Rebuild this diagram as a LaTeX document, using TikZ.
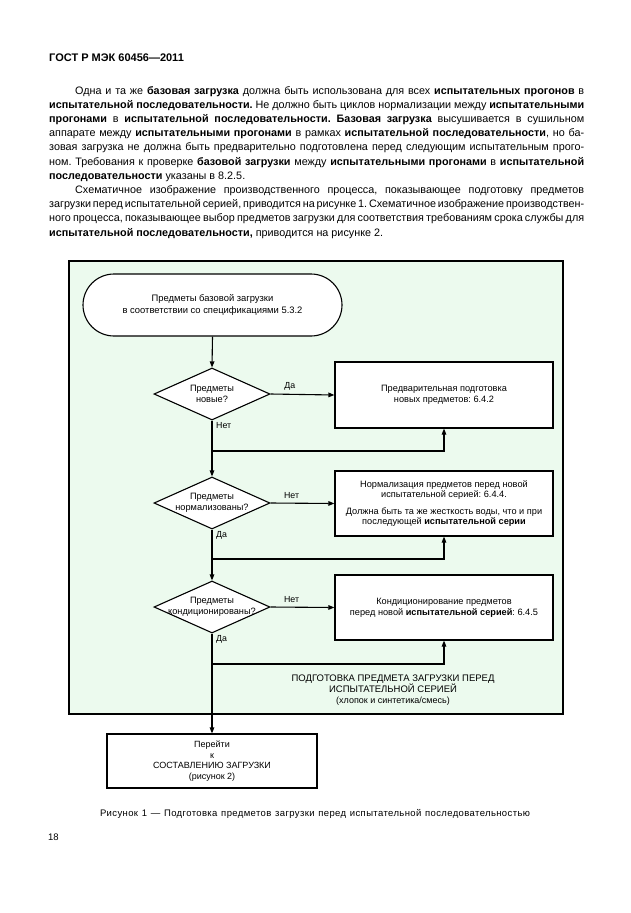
\documentclass[tikz,border=0pt]{standalone}
\usepackage{fontspec}
\setmainfont{Liberation Sans}
\usetikzlibrary{shapes.geometric,arrows.meta}
\definecolor{mint}{RGB}{236,250,238}
\frenchspacing
\newcommand\jline[4]{\node[body] (#1) at (#2) {\spaceskip=0.278em plus 0.4em minus 0.16em\relax\hbox to #3pt{#4}};}
\begin{document}
\begin{tikzpicture}[x=1pt,y=-1pt,
  body/.style={font=\fontsize{10.8}{14}\selectfont, inner sep=0pt, anchor=base west},
  fc/.style={font=\fontsize{9.2}{11}\selectfont, align=center, inner sep=0pt},
  fbox/.style={draw, fill=white, line width=1.1pt, minimum width=218pt, minimum height=65pt, inner sep=0pt, fc},
  dia/.style={diamond, draw, fill=white, line width=1.1pt, minimum width=116pt, minimum height=52pt, inner sep=0pt},
  conn/.style={line width=1.1pt, -{Triangle[length=6pt,width=4.5pt]}},
  yn/.style={font=\fontsize{8.8}{10}\selectfont, inner sep=0pt}
]
\useasboundingbox (0,0) rectangle (630,913);
\fill[white] (0,0) rectangle (630,913);

% header
\node[body, font=\fontsize{11}{13}\selectfont\bfseries] (hdr) at (49,61) {ГОСТ Р МЭК 60456—2011};

% paragraph text
\jline{l1}{75,94}{509}{Одна и та же \textbf{базовая загрузка} должна быть использована для всех \textbf{испытательных прогонов} в}
\jline{l2}{49,108.2}{535}{\textbf{испытательной последовательности.} Не должно быть циклов нормализации между \textbf{испытательными}}
\jline{l3}{49,122.4}{535}{\textbf{прогонами} в \textbf{испытательной последовательности. Базовая загрузка} высушивается в сушильном}
\jline{l4}{49,136.6}{535}{аппарате между \textbf{испытательными прогонами} в рамках \textbf{испытательной последовательности}, но ба-}
\jline{l5}{49,150.8}{535}{зовая загрузка не должна быть предварительно подготовлена перед следующим испытательным прого-}
\jline{l6}{49,165}{535}{ном. Требования к проверке \textbf{базовой загрузки} между \textbf{испытательными прогонами} в \textbf{испытательной}}
\node[body] (l7) at (49,179.2) {\textbf{последовательности} указаны в 8.2.5.};
\jline{l8}{75,193.4}{509}{Схематичное изображение производственного процесса, показывающее подготовку предметов}
\jline{l9}{49,207.6}{535}{загрузки перед испытательной серией, приводится на рисунке 1. Схематичное изображение производствен-}
\jline{l10}{49,221.8}{535}{ного процесса, показывающее выбор предметов загрузки для соответствия требованиям срока службы для}
\node[body] (l11) at (49,236) {\textbf{испытательной последовательности,} приводится на рисунке 2.};

% frame
\node[draw, fill=mint, line width=1.8pt, minimum width=494pt, minimum height=453pt, inner sep=0pt] (frame) at (316,487.5) {};

% start terminal
\node[draw, fill=white, line width=1.1pt, rounded corners=31pt, minimum width=259pt, minimum height=62pt, inner sep=0pt, fc, font=\fontsize{9.4}{12}\selectfont] (st) at (212.5,305)
  {Предметы базовой загрузки\\в соответствии со спецификациями 5.3.2};

% decisions
\node[dia] (d1) at (212,394) {};
\node[fc] (d1t) at (d1.center) {Предметы\\новые?};
\node[dia] (d2) at (212,503) {};
\node[fc] (d2t) at (d2.center) {Предметы\\нормализованы?};
\node[dia] (d3) at (212,607) {};
\node[fc] (d3t) at (d3.center) {Предметы\\кондиционированы?};

% boxes
\node[fbox, minimum height=66pt] (b1) at (444,395) {Предварительная подготовка\\новых предметов: 6.4.2};
\node[fbox, font=\fontsize{9.2}{10.5}\selectfont] (b2) at (444,503.5) {Нормализация предметов перед новой\\испытательной серией: 6.4.4.\\[6pt]Должна быть та же жесткость воды, что и при\\последующей \textbf{испытательной серии}};
\node[fbox] (b3) at (444,607.5) {Кондиционирование предметов\\перед новой \textbf{испытательной серией}: 6.4.5};

\node[fc, font=\fontsize{9.5}{11}\selectfont] (lbl) at (393,690) {ПОДГОТОВКА ПРЕДМЕТА ЗАГРУЗКИ ПЕРЕД\\ИСПЫТАТЕЛЬНОЙ СЕРИЕЙ\\{\fontsize{9}{11}\selectfont(хлопок и синтетика/смесь)}};

\node[fbox, minimum width=210pt, minimum height=54pt, font=\fontsize{9}{10.5}\selectfont] (b4) at (212,761) {Перейти\\к\\СОСТАВЛЕНИЮ ЗАГРУЗКИ\\(рисунок 2)};

% connectors
\coordinate (j1) at (212,451);
\coordinate (j2) at (212,559);
\coordinate (j3) at (212,664);
\draw[conn] (st.south) -- (d1.north);
\draw[conn] (d1.east) -- node[yn, pos=0.3, above=4pt] (y1) {Да} (b1.west);
\draw[conn] (d1.south) -- (d2.north);
\draw[conn] (j1) -| (b1.south);
\draw[conn] (d2.east) -- node[yn, pos=0.33, above=4pt] (y2) {Нет} (b2.west);
\draw[conn] (d2.south) -- (d3.north);
\draw[conn] (j2) -| (b2.south);
\draw[conn] (d3.east) -- node[yn, pos=0.33, above=4pt] (y3) {Нет} (b3.west);
\draw[conn] (d3.south) -- (b4.north);
\draw[conn] (j3) -| (b3.south);
\node[yn, anchor=north west] (n1) at ([shift={(4,2)}]d1.south) {Нет};
\node[yn, anchor=north west] (n2) at ([shift={(4,2)}]d2.south) {Да};
\node[yn, anchor=north west] (n3) at ([shift={(4,2)}]d3.south) {Да};

% caption and page number
\node[inner sep=0pt, font=\fontsize{9.5}{11}\selectfont\addfontfeature{LetterSpace=4}] (cap) at (315,814) {\hbox to 430pt{Рисунок 1 — Подготовка предметов загрузки перед испытательной последовательностью}};
\node[body, font=\fontsize{9.5}{11}\selectfont] (pg) at (48,840) {18};
\end{tikzpicture}
\end{document}
